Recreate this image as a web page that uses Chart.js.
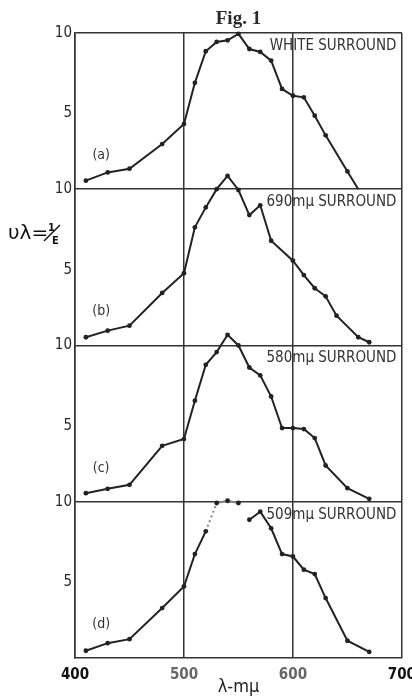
<!DOCTYPE html>
<html>
<head>
<meta charset="utf-8">
<script src="https://cdn.jsdelivr.net/npm/chart.js@4.4.1/dist/chart.umd.min.js"></script>
<style>
  html, body { margin: 0; padding: 0; background: #fff; overflow: hidden; }
  .chart_container { width: 424px; height: 696px; }
</style>
</head>
<body>
<div class="chart_container"><canvas id="myChart" width="424" height="696"></canvas></div>
<script>
// wavelengths (m-mu) of the measured points
var lambdaA = [410, 430, 450, 480, 500, 510, 520, 530, 540, 550, 560, 570, 580, 590, 600, 610, 620, 630, 650, 660];
var lambdaB = [410, 430, 450, 480, 500, 510, 520, 530, 540, 550, 560, 570, 580, 600, 610, 620, 630, 640, 660, 670];
var lambdaCD = [410, 430, 450, 480, 500, 510, 520, 530, 540, 550, 560, 570, 580, 590, 600, 610, 620, 630, 650, 670];

// v-lambda = 1/E for each surround
var whiteSurround = [0.83, 1.34, 1.57, 3.1, 4.35, 6.9, 8.86, 9.44, 9.54, 9.94, 9.0, 8.82, 8.28, 6.52, 6.1, 6.0, 4.86, 3.64, 1.4, 0.3];
var surround690 = [0.81, 1.22, 1.53, 3.56, 4.78, 7.63, 8.87, 10.0, 10.82, 9.95, 8.39, 9.0, 6.8, 5.56, 4.67, 3.85, 3.35, 2.15, 0.81, 0.5];
var surround580 = [0.83, 1.1, 1.35, 3.77, 4.19, 6.57, 8.8, 9.59, 10.66, 10.0, 8.63, 8.14, 6.83, 4.87, 4.87, 4.81, 4.25, 2.55, 1.14, 0.48];
var surround509 = [0.75, 1.22, 1.47, 3.4, 4.74, 6.75, 8.16, 9.92, 10.06, 9.92, 8.88, 9.38, 8.35, 6.75, 6.6, 5.78, 5.51, 4.02, 1.37, 0.68];

var panelNames = ['WHITE SURROUND', '690m\u03BC SURROUND', '580m\u03BC SURROUND', '509m\u03BC SURROUND'];
var panelLetters = ['(a)', '(b)', '(c)', '(d)'];
var xTicks = [400, 500, 600, 700];
var yTicks = [5, 10];
var yMin = 0.3, yMax = 10;

var FONT = "'Liberation Sans Narrow', 'DejaVu Sans Condensed', 'Liberation Sans', sans-serif";
var INK = '#222';

function pts(xs, ys) {
  return xs.map(function (x, i) { return { x: x, y: ys[i] } });
}

function panelAxis() {
  return {
    type: 'linear',
    position: 'left',
    stack: 'panels',
    stackWeight: 1,
    min: yMin,
    max: yMax,
    afterBuildTicks: function (s) { s.ticks = yTicks.map(function (v) { return { value: v } }) },
    afterFit: function (s) { s.width = 35 },
    ticks: { padding: 3, color: '#2a2a2a', font: { family: FONT, size: 15 } },
    grid: {
      drawTicks: false,
      lineWidth: 1.5,
      color: function (c) { return c.tick && c.tick.value === yMax ? '#333' : 'transparent' }
    },
    border: { color: '#333', width: 1.5 }
  }
}

function series(data, axis) {
  return {
    data: data,
    yAxisID: axis,
    borderColor: INK,
    backgroundColor: INK,
    borderWidth: 2,
    pointRadius: function (c) { return c.raw && c.raw.y <= yMin ? 0 : 2.4 },
    pointBorderWidth: 0,
    tension: 0,
    clip: false
  }
}

var d509 = series(pts(lambdaCD, surround509), 'yd');
// faint / broken stretch near the top of panel (d)
d509.segment = {
  borderDash: function (c) { return c.p0DataIndex === 6 ? [2, 3] : undefined },
  borderColor: function (c) {
    if (c.p0DataIndex === 9) return 'transparent';
    if (c.p0DataIndex >= 6 && c.p0DataIndex <= 8) return '#888';
    return undefined;
  }
};

var panelText = {
  id: 'panelText',
  afterDraw: function (chart) {
    var ctx = chart.ctx, x = chart.scales.x;
    ['ya', 'yb', 'yc', 'yd'].forEach(function (id, i) {
      var y = chart.scales[id];
      ctx.save();
      ctx.fillStyle = '#333';
      ctx.textBaseline = 'middle';
      ctx.font = '15px ' + FONT;
      ctx.textAlign = 'right';
      ctx.fillText(panelNames[i], x.getPixelForValue(695), y.getPixelForValue(9.2));
      ctx.font = '14px ' + FONT;
      ctx.textAlign = 'center';
      ctx.fillText(panelLetters[i], x.getPixelForValue(424), y.getPixelForValue(2.4));
      ctx.restore();
    });
    // y title: v-lambda = 1/E
    ctx.save();
    ctx.fillStyle = '#111';
    ctx.textAlign = 'left';
    ctx.textBaseline = 'alphabetic';
    ctx.font = '20px "DejaVu Sans"';
    ctx.fillText('\u03C5\u03BB=', 8, 239);
    ctx.font = 'bold 11px ' + FONT;
    ctx.fillText('1', 48, 231);
    ctx.fillText('E', 52, 244);
    ctx.strokeStyle = '#111';
    ctx.lineWidth = 1.5;
    ctx.beginPath();
    ctx.moveTo(44, 241);
    ctx.lineTo(60, 225);
    ctx.stroke();
    ctx.restore();
  }
};

var ctx = document.getElementById('myChart').getContext('2d');
var myChart = new Chart(ctx, {
  type: 'line',
  data: {
    datasets: [
      series(pts(lambdaA, whiteSurround), 'ya'),
      series(pts(lambdaB, surround690), 'yb'),
      series(pts(lambdaCD, surround580), 'yc'),
      d509
    ]
  },
  options: {
    responsive: false,
    animation: false,
    layout: { padding: { left: 40, right: 22, top: 0, bottom: 0 } },
    plugins: {
      legend: { display: false },
      tooltip: { enabled: false },
      title: {
        display: true,
        text: 'Fig. 1',
        fullSize: false,
        color: '#2a2a2a',
        font: { family: "'Liberation Serif', serif", size: 19, weight: 'bold', lineHeight: 1.1 },
        padding: { top: 9, bottom: 3 }
      }
    },
    scales: {
      x: {
        type: 'linear',
        min: 400,
        max: 700,
        afterBuildTicks: function (s) { s.ticks = xTicks.map(function (v) { return { value: v } }) },
        afterFit: function (s) { s.height = 38 },
        ticks: {
          padding: 8,
          font: { family: FONT, size: 15, weight: 'bold' },
          color: function (c) { return c.tick && (c.tick.value === 500 || c.tick.value === 600) ? '#666' : '#111' }
        },
        grid: { color: '#333', lineWidth: 1.5, drawTicks: false },
        border: { color: '#333', width: 1.5 },
        title: {
          display: true,
          text: '\u03BB-m\u03BC',
          color: '#222',
          font: { family: FONT, size: 18, lineHeight: 1 },
          padding: { top: 0, bottom: 0 }
        }
      },
      yd: panelAxis(),
      yc: panelAxis(),
      yb: panelAxis(),
      ya: panelAxis()
    }
  },
  plugins: [panelText]
});
</script>
</body>
</html>
